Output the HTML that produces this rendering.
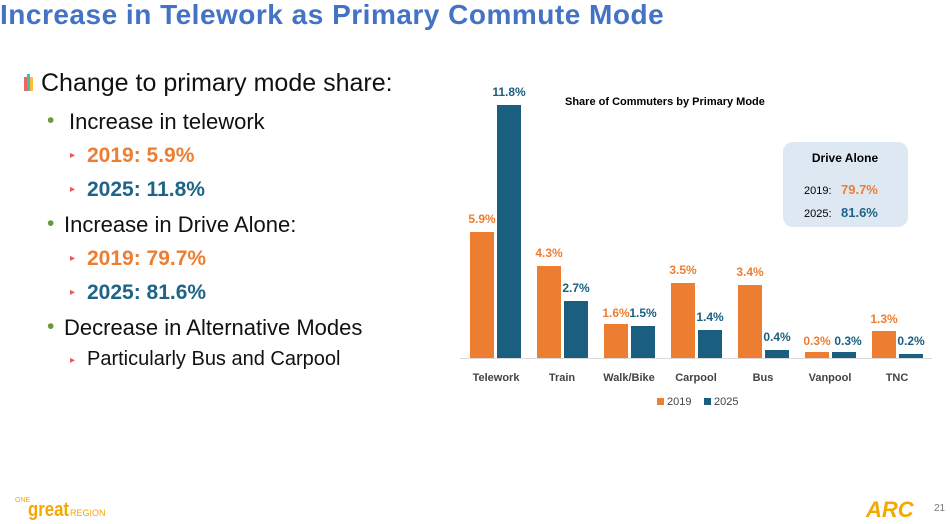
<!DOCTYPE html>
<html><head><meta charset="utf-8"><style>
body{margin:0;width:950px;height:524px;background:#fff;position:relative;overflow:hidden;font-family:"Liberation Sans",Calibri,sans-serif}
.t{position:absolute;white-space:nowrap}
</style></head><body>
<div class="t" style="left:0;top:-1px;font-size:28px;font-weight:bold;color:#4472c4;letter-spacing:0.5px">Increase in Telework as Primary Commute Mode</div>
<div style="position:absolute;left:24px;top:77px;width:3px;height:14px;background:#e66"></div>
<div style="position:absolute;left:27px;top:74px;width:3px;height:17px;background:#4bb"></div>
<div style="position:absolute;left:30px;top:77px;width:3px;height:14px;background:#fb3"></div>
<div class="t" style="left:41px;top:69px;font-size:25px;color:#111">Change to primary mode share:</div>
<div class="t" style="left:47px;top:109px;font-size:21px;color:#6a9a3a">•</div>
<div class="t" style="left:69px;top:109px;font-size:22px;color:#111">Increase in telework</div>
<div class="t" style="left:70px;top:150px;font-size:10px;color:#e55">▸</div>
<div class="t" style="left:87px;top:144px;font-size:21px;font-weight:bold;color:#ed7d31">2019: 5.9%</div>
<div class="t" style="left:70px;top:184px;font-size:10px;color:#e55">▸</div>
<div class="t" style="left:87px;top:178px;font-size:21px;font-weight:bold;color:#1f6488">2025: 11.8%</div>
<div class="t" style="left:47px;top:212px;font-size:21px;color:#6a9a3a">•</div>
<div class="t" style="left:64px;top:212px;font-size:22px;color:#111">Increase in Drive Alone:</div>
<div class="t" style="left:70px;top:253px;font-size:10px;color:#e55">▸</div>
<div class="t" style="left:87px;top:247px;font-size:21px;font-weight:bold;color:#ed7d31">2019: 79.7%</div>
<div class="t" style="left:70px;top:287px;font-size:10px;color:#e55">▸</div>
<div class="t" style="left:87px;top:281px;font-size:21px;font-weight:bold;color:#1f6488">2025: 81.6%</div>
<div class="t" style="left:47px;top:315px;font-size:21px;color:#6a9a3a">•</div>
<div class="t" style="left:64px;top:315px;font-size:22px;color:#111">Decrease in Alternative Modes</div>
<div class="t" style="left:70px;top:355px;font-size:10px;color:#e55">▸</div>
<div class="t" style="left:87px;top:348px;font-size:20px;color:#111">Particularly Bus and Carpool</div>

<svg style="position:absolute;left:0;top:0" width="950" height="524" font-family="Liberation Sans, sans-serif">
<text x="565" y="105" font-size="11" font-weight="bold" fill="#000">Share of Commuters by Primary Mode</text>
<rect x="783" y="142" width="125" height="85" rx="10" fill="#dde8f3"/>
<text x="845" y="162" font-size="12" font-weight="bold" text-anchor="middle" fill="#000">Drive Alone</text>
<text x="804" y="194" font-size="11" fill="#000">2019:</text><text x="841" y="194" font-size="13" font-weight="bold" fill="#ed7d31">79.7%</text>
<text x="804" y="217" font-size="11" fill="#000">2025:</text><text x="841" y="217" font-size="13" font-weight="bold" fill="#1f6488">81.6%</text>
<line x1="460" y1="358.5" x2="932" y2="358.5" stroke="#d9d9d9"/>
<g font-size="12" font-weight="bold" text-anchor="middle">
<rect x="470" y="232" width="24" height="126" fill="#ed7d31"/><rect x="497" y="105" width="24" height="253" fill="#1a5e80"/>
<text x="482" y="223" fill="#ed7d31">5.9%</text><text x="509" y="96" fill="#1a5e80">11.8%</text>
<rect x="537" y="266" width="24" height="92" fill="#ed7d31"/><rect x="564" y="301" width="24" height="57" fill="#1a5e80"/>
<text x="549" y="257" fill="#ed7d31">4.3%</text><text x="576" y="292" fill="#1a5e80">2.7%</text>
<rect x="604" y="324" width="24" height="34" fill="#ed7d31"/><rect x="631" y="326" width="24" height="32" fill="#1a5e80"/>
<text x="616" y="317" fill="#ed7d31">1.6%</text><text x="643" y="317" fill="#1a5e80">1.5%</text>
<rect x="671" y="283" width="24" height="75" fill="#ed7d31"/><rect x="698" y="330" width="24" height="28" fill="#1a5e80"/>
<text x="683" y="274" fill="#ed7d31">3.5%</text><text x="710" y="321" fill="#1a5e80">1.4%</text>
<rect x="738" y="285" width="24" height="73" fill="#ed7d31"/><rect x="765" y="350" width="24" height="8" fill="#1a5e80"/>
<text x="750" y="276" fill="#ed7d31">3.4%</text><text x="777" y="341" fill="#1a5e80">0.4%</text>
<rect x="805" y="352" width="24" height="6" fill="#ed7d31"/><rect x="832" y="352" width="24" height="6" fill="#1a5e80"/>
<text x="817" y="345" fill="#ed7d31">0.3%</text><text x="848" y="345" fill="#1a5e80">0.3%</text>
<rect x="872" y="331" width="24" height="27" fill="#ed7d31"/><rect x="899" y="354" width="24" height="4" fill="#1a5e80"/>
<text x="884" y="323" fill="#ed7d31">1.3%</text><text x="911" y="345" fill="#1a5e80">0.2%</text>
</g>
<g font-size="11" font-weight="bold" fill="#444" text-anchor="middle">
<text x="496" y="381">Telework</text><text x="562" y="381">Train</text><text x="629" y="381">Walk/Bike</text><text x="696" y="381">Carpool</text><text x="763" y="381">Bus</text><text x="830" y="381">Vanpool</text><text x="897" y="381">TNC</text>
</g>
<rect x="657" y="398" width="7" height="7" fill="#ed7d31"/><text x="667" y="405" font-size="11" fill="#444">2019</text>
<rect x="704" y="398" width="7" height="7" fill="#1a5e80"/><text x="714" y="405" font-size="11" fill="#444">2025</text>
<text x="15" y="502" font-size="7" fill="#f5a800">ONE</text>
<text x="28" y="516" font-size="20" font-weight="bold" fill="#f5a800" textLength="41" lengthAdjust="spacingAndGlyphs">great</text>
<text x="70" y="516" font-size="9" fill="#f5a800">REGION</text>
<text x="866" y="517" font-size="22" font-weight="bold" fill="#f5a800" font-style="italic">ARC</text>
<text x="934" y="511" font-size="10" fill="#777">21</text>
</svg>
</body></html>
